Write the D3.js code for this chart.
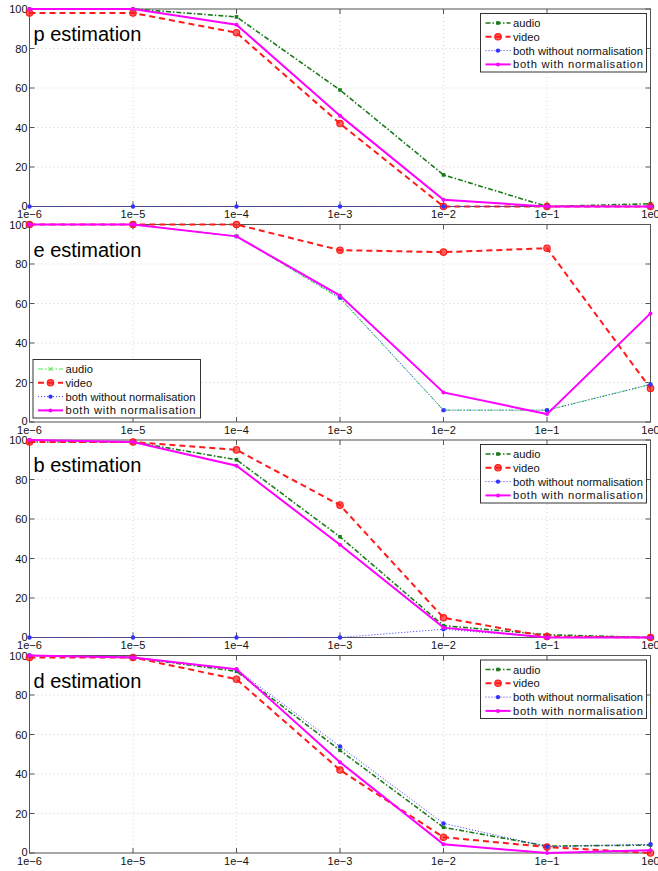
<!DOCTYPE html>
<html><head><meta charset="utf-8">
<script src="https://cdn.jsdelivr.net/npm/d3@7"></script>
<style>body{margin:0;background:#fff}svg{display:block}text{font-family:"Liberation Sans",Arial,sans-serif}</style>
</head><body><svg id="c" width="658" height="871"></svg>
<script>
const xValues = [1e-6, 1e-5, 1e-4, 1e-3, 1e-2, 1e-1, 1];
const xTickLabels = ["1e\u22126","1e\u22125","1e\u22124","1e\u22123","1e\u22122","1e\u22121","1e0"];
const yTicks = [0, 20, 40, 60, 80, 100];
const seriesNames = ["audio", "video", "both without normalisation", "both with normalisation"];
const panelTitles = ["p estimation", "e estimation", "b estimation", "d estimation"];

const pAudio = [100, 100, 96, 59, 16, 0, 1.4];
const pVideo = [98, 98, 88, 42, 0, 0, 0];
const pBothWithout = [0, 0, 0, 0, 0, 0, 0];
const pBothWith = [100, 100, 92, 46, 3.4, 0, 0];

const eAudio = [100, 100, 94, 62.5, 6, 6, 19];
const eVideo = [100, 100, 100, 87, 86, 88, 17];
const eBothWithout = [100, 100, 94, 63, 6, 6, 19];
const eBothWith = [100, 100, 94, 64, 15, 4, 55];

const bAudio = [99, 99, 90, 51, 6, 1.4, 0];
const bVideo = [99, 99, 95, 67, 10, 0.5, 0];
const bBothWithout = [0, 0, 0, 0, 4.2, 0, 0];
const bBothWith = [100, 99, 87, 47, 5, 0, 0];

const dAudio = [100, 99, 92, 52, 13, 3.5, 4];
const dVideo = [99, 99, 88, 42, 8, 3, 0];
const dBothWithout = [100, 99, 93, 54, 15, 3.2, 4.4];
const dBothWith = [100, 99, 93, 46, 4.4, 0, 1.4];

const panelData = [
  [pAudio, pVideo, pBothWithout, pBothWith],
  [eAudio, eVideo, eBothWithout, eBothWith],
  [bAudio, bVideo, bBothWithout, bBothWith],
  [dAudio, dVideo, dBothWithout, dBothWith]
];

const svg = d3.select("#c");
const panelTops = [9, 224.5, 440, 655.5];
const panelH = 197.5;
const x = d3.scaleLog().domain([1e-6, 1]).range([29.5, 650.5]);

function styles(pi) {
  return [
    {color: pi === 1 ? "#44ee44" : "#1a7a1a", dash: "5,2,1.5,2", width: pi === 1 ? 1 : 1.6, marker: pi === 1 ? "x" : "sq"},
    {color: "#ff1a1a", dash: "6,4", width: 2, marker: "o"},
    {color: "#3333ff", dash: "1,2", width: 1, marker: "dot"},
    {color: "#ff00ff", dash: null, width: 2, marker: "plus"}
  ];
}

function marker(g, type, cx, cy, color) {
  if (type === "o") {
    g.append("circle").attr("cx", cx).attr("cy", cy).attr("r", 3.2)
      .attr("fill", color).attr("fill-opacity", 0.7).attr("stroke", color).attr("stroke-width", 1.2);
  } else if (type === "sq") {
    g.append("rect").attr("x", cx - 1.8).attr("y", cy - 1.8).attr("width", 3.6).attr("height", 3.6).attr("fill", color);
  } else if (type === "dot") {
    g.append("circle").attr("cx", cx).attr("cy", cy).attr("r", 2.2).attr("fill", color);
  } else if (type === "x") {
    g.append("path").attr("d", `M${cx-2},${cy-2}L${cx+2},${cy+2}M${cx-2},${cy+2}L${cx+2},${cy-2}`)
      .attr("stroke", color).attr("stroke-width", 1);
  } else if (type === "plus") {
    g.append("circle").attr("cx", cx).attr("cy", cy).attr("r", 2).attr("fill", color);
  }
}

panelData.forEach((series, pi) => {
  const top = panelTops[pi], bottom = top + panelH;
  const y = d3.scaleLinear().domain([0, 100]).range([bottom, top]);
  const g = svg.append("g");
  const st = styles(pi);

  // grid
  xValues.forEach(v => {
    g.append("line").attr("x1", x(v)).attr("x2", x(v)).attr("y1", top).attr("y2", bottom)
      .attr("stroke", "#c8c8c8").attr("stroke-width", 0.8).attr("stroke-dasharray", "1,3");
  });
  yTicks.forEach(v => {
    g.append("line").attr("x1", x(1e-6)).attr("x2", x(1)).attr("y1", y(v)).attr("y2", y(v))
      .attr("stroke", "#c8c8c8").attr("stroke-width", 0.8).attr("stroke-dasharray", "1,3");
  });

  // box
  g.append("rect").attr("x", x(1e-6)).attr("y", top).attr("width", x(1) - x(1e-6)).attr("height", panelH)
    .attr("fill", "none").attr("stroke", "#555").attr("stroke-width", 1);

  // ticks (inward)
  xValues.forEach(v => {
    g.append("line").attr("x1", x(v)).attr("x2", x(v)).attr("y1", bottom).attr("y2", bottom - 5).attr("stroke", "#555");
    g.append("line").attr("x1", x(v)).attr("x2", x(v)).attr("y1", top).attr("y2", top + 5).attr("stroke", "#555");
  });
  yTicks.forEach(v => {
    g.append("line").attr("x1", x(1e-6)).attr("x2", x(1e-6) + 5).attr("y1", y(v)).attr("y2", y(v)).attr("stroke", "#555");
    g.append("line").attr("x1", x(1)).attr("x2", x(1) - 5).attr("y1", y(v)).attr("y2", y(v)).attr("stroke", "#555");
  });

  // tick labels
  xValues.forEach((v, i) => {
    g.append("text").attr("x", x(v)).attr("y", bottom + 11.5).attr("text-anchor", "middle")
      .attr("font-size", 11).attr("fill", "#111").text(xTickLabels[i]);
  });
  yTicks.forEach(v => {
    g.append("text").attr("x", 27.5).attr("y", y(v) + (v === 0 ? 3 : 4)).attr("text-anchor", "end")
      .attr("font-size", 11).attr("fill", "#111").text(v);
  });

  // series
  series.forEach((vals, si) => {
    const s = st[si];
    const line = d3.line().x((d, i) => x(xValues[i])).y(d => y(d));
    const p = g.append("path").attr("d", line(vals)).attr("fill", "none")
      .attr("stroke", s.color).attr("stroke-width", s.width);
    if (s.dash) p.attr("stroke-dasharray", s.dash);
    vals.forEach((d, i) => marker(g, s.marker, x(xValues[i]), y(d), s.color));
  });

  // title
  g.append("text").attr("x", 33.5).attr("y", top + 32).attr("font-size", 20).attr("fill", "#000").text(panelTitles[pi]);

  // legend
  let lx, ly;
  if (pi === 1) { lx = 33; ly = 359.5; } else { lx = 480.5; ly = top + 4.5; }
  const lw = pi === 1 ? 167.5 : 166, lh = 58.5;
  const lg = svg.append("g");
  lg.append("rect").attr("x", lx).attr("y", ly).attr("width", lw).attr("height", lh)
    .attr("fill", "#fff").attr("stroke", "#333").attr("stroke-width", 1);
  seriesNames.forEach((name, si) => {
    const s = st[si];
    const yy = ly + 9.5 + si * 13.8;
    const l = lg.append("line").attr("x1", lx + 5).attr("x2", lx + 30).attr("y1", yy).attr("y2", yy)
      .attr("stroke", s.color).attr("stroke-width", s.width);
    if (s.dash) l.attr("stroke-dasharray", s.dash);
    marker(lg, s.marker, lx + 17.5, yy, s.color);
    lg.append("text").attr("x", lx + 32.5).attr("y", yy + 4).attr("font-size", 11.2)
      .attr("textLength", name.length > 20 ? 130 : null).attr("fill", "#111").text(name);
  });
});
</script></body></html>
